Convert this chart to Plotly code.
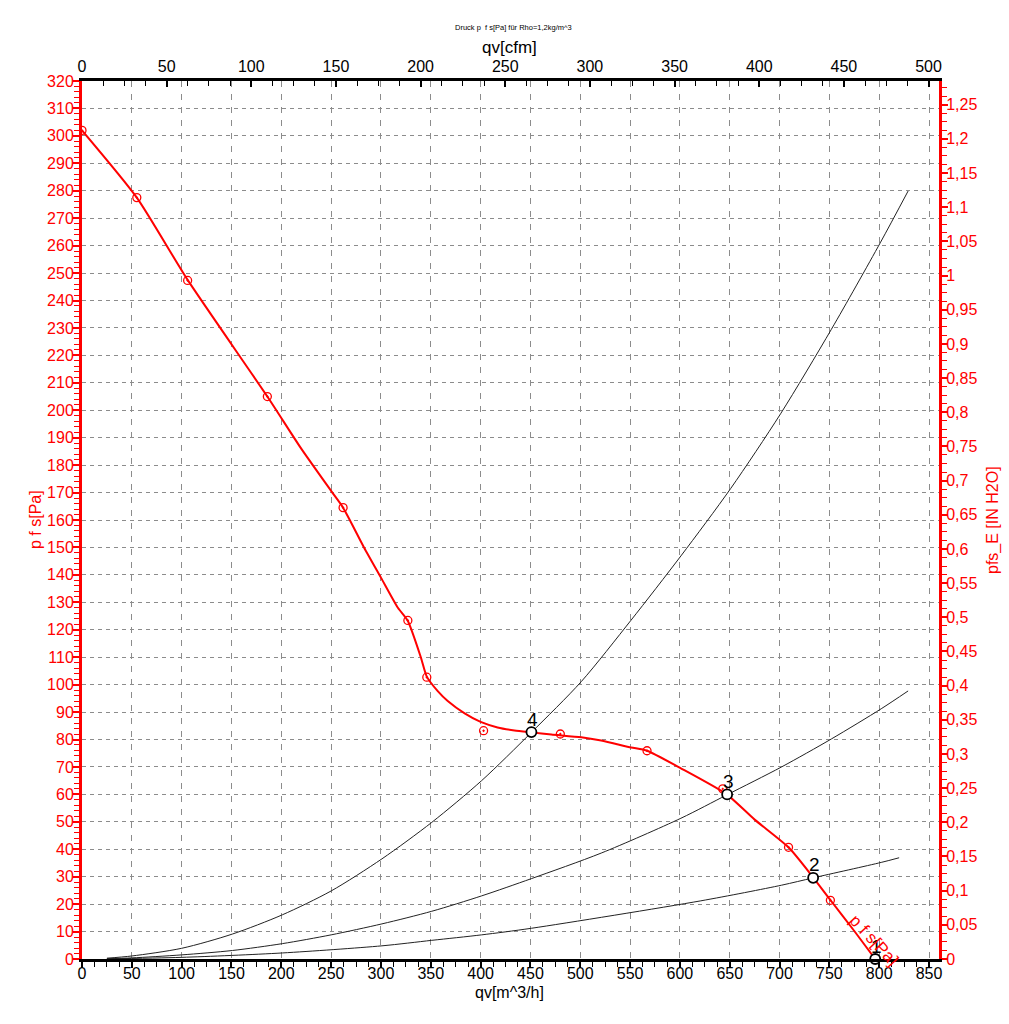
import plotly.graph_objects as go

# ---------------- data ----------------
CFM_PER_M3H = 1 / 1.69901          # qv[cfm] per qv[m^3/h]
INH2O_PER_PA = 1 / 249.089         # IN H2O per Pa

# fan curve p f s [Pa] versus qv [m^3/h] (smooth line)
fan_qv = [0, 55, 106, 186, 220, 250, 262, 283, 300, 317, 327, 340, 346, 357, 367, 384,
          400, 417, 434, 451, 471, 501, 521, 551, 567, 601, 647, 675, 709, 734, 751, 775, 796]
fan_p = [302, 277.5, 247.5, 205, 186, 170.6, 164.5, 150, 139, 128, 123.2, 110, 102.9, 97.6, 94.0, 89.5,
         86.4, 84.4, 83.3, 82.6, 81.8, 80.8, 79.6, 77.1, 75.9, 69.5, 60, 50.8, 40.7, 29.6, 21.5, 10.2, 0]

# measured points on the fan curve
meas_qv = [0, 55, 106, 186, 262, 327, 346, 403, 480, 567, 643, 709, 751]
meas_p = [302, 277.5, 247.3, 205, 164.5, 123.4, 102.7, 83.2, 82, 75.9, 62, 40.7, 21.4]

# system curves
sys4_qv = [25, 50, 100, 151, 201, 250, 301, 351, 401, 451, 501, 551, 601, 651, 701, 752, 801, 829]
sys4_p = [0.3, 1.1, 3.9, 9.1, 16.1, 24.8, 36.5, 49.8, 65, 82.6, 101.1, 123.5, 146.9, 171.5, 198.7, 229.5, 261, 279.9]
sys3_qv = [25, 50, 100, 151, 201, 250, 301, 351, 401, 451, 521, 601, 647, 702, 752, 802, 829]
sys3_p = [0.1, 0.4, 1.5, 3.1, 5.6, 8.8, 12.8, 17.4, 23.0, 29.3, 38.6, 51.3, 59.8, 70.0, 80.2, 91.2, 97.7]
sys2_qv = [25, 100, 201, 301, 351, 401, 451, 621, 702, 734, 802, 820]
sys2_p = [0.05, 0.6, 2.2, 4.8, 6.8, 8.8, 11.2, 21.2, 26.9, 29.6, 35.2, 36.9]

# operating points
op_labels = ["1", "2", "3", "4"]
op_qv = [796, 733.7, 647.4, 451]
op_p = [0, 29.6, 60, 82.7]

# axis ranges
qv_range = [0, 860]
p_range = [0, 320]

RED = "#ff0000"
GRID = "#8c8c8c"
FONT = "Liberation Sans, Arial, sans-serif"

fig = go.Figure()

for q, p in [(sys4_qv, sys4_p), (sys3_qv, sys3_p), (sys2_qv, sys2_p)]:
    fig.add_trace(go.Scatter(x=q, y=p, mode="lines", line=dict(color="#222222", width=1, shape="spline", smoothing=0.8),
                             showlegend=False, hoverinfo="skip"))

fig.add_trace(go.Scatter(x=fan_qv, y=fan_p, mode="lines", line=dict(color=RED, width=2, shape="spline", smoothing=0.6),
                         showlegend=False))
fig.add_trace(go.Scatter(x=meas_qv, y=meas_p, mode="markers",
                         marker=dict(symbol="circle-open-dot", size=8, color=RED, line=dict(width=1.3, color=RED)),
                         showlegend=False))
fig.add_trace(go.Scatter(x=op_qv, y=op_p, mode="markers",
                         marker=dict(symbol="circle", size=10, color="white", line=dict(width=1.8, color="black")),
                         showlegend=False, cliponaxis=False))
# invisible trace for the secondary axes
fig.add_trace(go.Scatter(x=[None], y=[None], xaxis="x2", yaxis="y2", showlegend=False, hoverinfo="skip"))

tickfont = dict(family=FONT, size=16, color="black")
redfont = dict(family=FONT, size=16, color=RED)

fig.update_layout(
    width=1009, height=1024,
    margin=dict(l=82, r=70, t=81, b=65),
    paper_bgcolor="white", plot_bgcolor="white",
    separators=",.",
    font=dict(family=FONT),
    xaxis=dict(range=qv_range, dtick=50, tick0=0, showgrid=True, gridcolor=GRID, gridwidth=1, griddash="6px,7px",
               zeroline=False, showline=True, linecolor="black", linewidth=3,
               ticks="outside", ticklen=6, tickwidth=1.5, tickcolor="black", tickfont=tickfont,
               ticklabelstandoff=-8,
               minor=dict(dtick=12.5, ticks="outside", ticklen=5, tickwidth=1, tickcolor="black", showgrid=False)),
    xaxis2=dict(range=[qv_range[0] * CFM_PER_M3H, qv_range[1] * CFM_PER_M3H], overlaying="x", side="top", anchor="y",
                dtick=50, tick0=0, showgrid=False, zeroline=False, showline=True, linecolor="black", linewidth=3,
                ticks="inside", ticklen=6, tickwidth=1.5, tickcolor="black", tickfont=tickfont,
                minor=dict(dtick=12.5, ticks="inside", ticklen=5, tickwidth=1, tickcolor="black", showgrid=False)),
    yaxis=dict(range=p_range, dtick=10, tick0=0, showgrid=True, gridcolor=GRID, gridwidth=1, griddash="4px,4px",
               zeroline=False, showline=True, linecolor=RED, linewidth=3,
               ticks="outside", ticklen=6, tickwidth=1.5, tickcolor=RED, tickfont=redfont,
               ticklabelstandoff=-4,
               minor=dict(dtick=2, ticks="outside", ticklen=5, tickwidth=1, tickcolor=RED, showgrid=False)),
    yaxis2=dict(range=[p_range[0] * INH2O_PER_PA, p_range[1] * INH2O_PER_PA], overlaying="y", side="right", anchor="x",
                dtick=0.05, tick0=0, showgrid=False, zeroline=False, showline=True, linecolor=RED, linewidth=3,
                ticks="outside", ticklen=6, tickwidth=1.5, tickcolor=RED, tickfont=redfont,
                ticklabelstandoff=-5,
                minor=dict(dtick=0.0125, ticks="outside", ticklen=5, tickwidth=1, tickcolor=RED, showgrid=False)),
)

C = dict(xanchor="center", yanchor="middle", showarrow=False)
ann = []
for lab, q, p in zip(op_labels, op_qv, op_p):
    ann.append(dict(x=q, y=p, xref="x", yref="y", text=lab, yshift=13, xshift=1,
                    font=dict(family=FONT, size=19, color="black"), **C))
ann.append(dict(x=795, y=6.9, xref="x", yref="y", text="p f s[Pa]", textangle=47,
                font=dict(family=FONT, size=17, color=RED), **C))
ann.append(dict(x=0.503, y=1.0615, xref="paper", yref="paper", text="Druck p  f s[Pa] für Rho=1,2kg/m^3",
                font=dict(family=FONT, size=7.5, color="black"), **C))
ann.append(dict(x=0.4994, y=1.0376, xref="paper", yref="paper", text="qv[cfm]",
                font=dict(family=FONT, size=17, color="black"), **C))
ann.append(dict(x=0.4994, y=-0.0387, xref="paper", yref="paper", text="qv[m^3/h]",
                font=dict(family=FONT, size=16, color="black"), **C))
ann.append(dict(x=-0.0548, y=0.5, xref="paper", yref="paper", text="p f s[Pa]", textangle=-90,
                font=dict(family=FONT, size=16, color=RED), **C))
ann.append(dict(x=1.063, y=0.5, xref="paper", yref="paper", text="pfs_E [IN H2O]", textangle=-90,
                font=dict(family=FONT, size=16, color=RED), **C))
fig.update_layout(annotations=ann)

fig.write_html("out.html")
